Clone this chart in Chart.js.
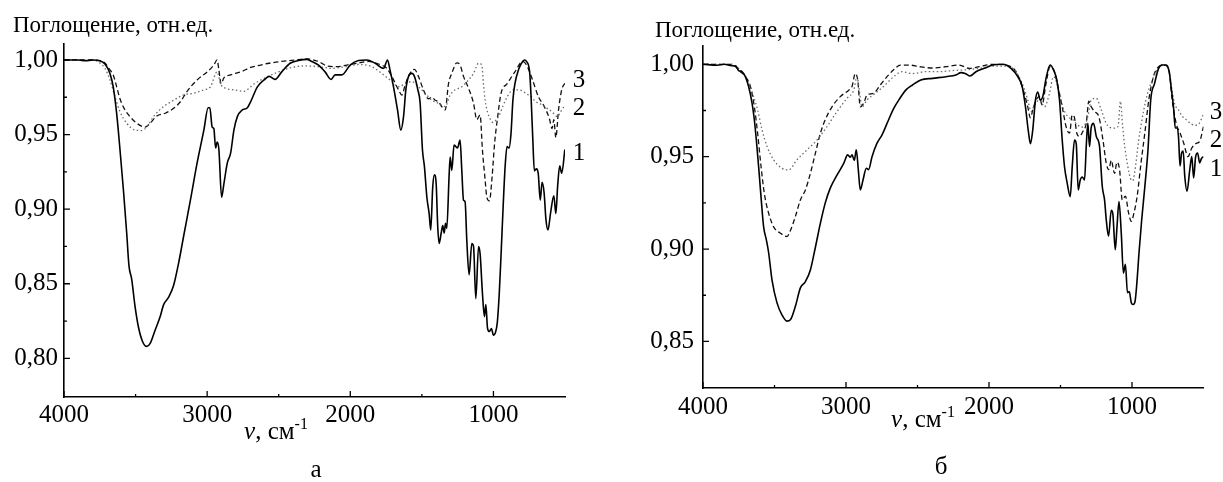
<!DOCTYPE html>
<html>
<head>
<meta charset="utf-8">
<script src="https://cdn.jsdelivr.net/npm/chart.js@4.4.1/dist/chart.umd.min.js"></script>
<style>
body { margin:0; background:#fff; width:1223px; height:482px; position:relative; overflow:hidden;
       font-family:'Liberation Serif','Times New Roman',serif; color:#000; }
canvas { position:absolute; top:0; }
.t { position:absolute; line-height:1; white-space:nowrap; }
.c { transform:translate(-50%,-50%); font-size:25px; }
.ttl { font-size:23px; }
sup { font-size:16px; position:relative; top:-2px; vertical-align:top; }
</style>
</head>
<body>
<canvas id="chartA" width="611" height="482" style="left:0"></canvas>
<canvas id="chartB" width="612" height="482" style="left:611px"></canvas>

<div class="t ttl" style="left:13px;top:13px">Поглощение, отн.ед.</div>
<div class="t ttl" style="left:655px;top:18px">Поглощение, отн.ед.</div>

<div class="t c" style="left:276px;top:430px"><i>ν</i>, см<sup>-1</sup></div>
<div class="t c" style="left:923px;top:418px"><i>ν</i>, см<sup>-1</sup></div>

<div class="t c" style="left:316px;top:468px">а</div>
<div class="t c" style="left:941px;top:465px">б</div>

<div class="t c" style="left:579px;top:78px">3</div>
<div class="t c" style="left:579px;top:106px">2</div>
<div class="t c" style="left:579px;top:151px">1</div>
<div class="t c" style="left:1216px;top:110px">3</div>
<div class="t c" style="left:1216px;top:138px">2</div>
<div class="t c" style="left:1216px;top:167px">1</div>

<script>
// wavenumber axis ticks
const xMajor = [4000, 3000, 2000, 1000];
const xMinor = [3500, 2500, 1500];
const yMajorA = [0.80, 0.85, 0.90, 0.95, 1.00];
const yMinorA = [0.825, 0.875, 0.925, 0.975];
const yMajorB = [0.85, 0.90, 0.95, 1.00];
const yMinorB = [0.875, 0.925, 0.975];

// panel a, curve 1 (solid)
const wnA1 = [4000,3900,3850,3800,3750,3714,3679,3656,3632,3609,3585,3562,3546,3527,3504,3480,3450,3422,3398,3363,
  3328,3304,3269,3234,3199,3164,3117,3070,3023,2993,2981,2965,2953,2941,2930,2918,2899,2883,2859,2836,
  2813,2789,2754,2719,2696,2649,2602,2567,2525,2479,2420,2362,2304,2269,2222,2176,2134,2106,2059,2001,
  1943,1885,1826,1768,1740,1722,1698,1670,1647,1628,1612,1593,1570,1552,1528,1512,1496,1482,1465,1449,
  1438,1424,1412,1400,1389,1379,1365,1354,1344,1335,1326,1309,1302,1291,1275,1263,1251,1233,1221,1209,
  1198,1186,1170,1151,1139,1123,1104,1093,1077,1063,1053,1041,1028,1014,1000,987,973,959,946,932,
  918,905,891,877,864,850,823,796,782,769,747,736,725,714,700,687,673,660,646,633,
  619,600,578,564,551,537,523,501];
const absA1 = [1.000,1.000,0.9995,1.000,0.9995,0.9973,0.991,0.982,0.964,0.940,0.913,0.884,0.862,0.853,0.835,0.821,0.811,0.808,0.810,0.819,
  0.828,0.836,0.841,0.849,0.864,0.882,0.906,0.931,0.953,0.968,0.968,0.955,0.954,0.941,0.945,0.940,0.908,0.917,0.931,0.9375,
  0.953,0.962,0.9665,0.968,0.972,0.982,0.9866,0.989,0.987,0.992,0.9978,0.9996,1.0004,0.999,0.9966,0.992,0.987,0.990,0.990,0.9966,
  0.9996,1.000,0.9978,0.9944,1.000,0.993,0.982,0.9665,0.953,0.962,0.980,0.989,0.991,0.989,0.980,0.971,0.940,0.9285,0.908,0.897,
  0.886,0.915,0.923,0.917,0.888,0.877,0.884,0.889,0.884,0.8905,0.887,0.924,0.935,0.926,0.943,0.942,0.941,0.9464,0.926,0.906,
  0.905,0.879,0.856,0.877,0.875,0.840,0.875,0.870,0.844,0.828,0.836,0.820,0.818,0.820,0.8156,0.817,0.824,0.844,0.871,0.902,
  0.929,0.942,0.941,0.951,0.973,0.984,0.994,0.999,1.000,0.999,0.992,0.973,0.947,0.9256,0.927,0.924,0.906,0.918,0.911,0.893,
  0.886,0.898,0.909,0.897,0.916,0.929,0.924,0.940];

// panel a, curve 2 (dotted)
const wnA2 = [4000,3800,3749,3714,3679,3644,3609,3562,3504,3457,3422,3375,3304,3234,3164,3094,3023,2977,2930,2906,
  2871,2813,2743,2672,2602,2502,2409,2316,2222,2129,2036,1943,1850,1780,1710,1663,1617,1570,1524,1477,
  1430,1384,1337,1302,1268,1221,1174,1139,1104,1081,1070,1058,1041,1020,1000,980,959,930,905,878,
  850,820,796,765,742,715,687,660,633,600,578,555,537,520,501];
const absA2 = [1.000,1.000,0.998,0.9944,0.9866,0.9754,0.9654,0.9576,0.953,0.9527,0.955,0.962,0.9688,0.973,0.9766,0.9777,0.980,0.982,0.992,0.984,
  0.981,0.980,0.979,0.984,0.9877,0.992,0.995,0.996,0.9955,0.9944,0.9955,0.997,0.9955,0.991,0.9855,0.982,0.984,0.9855,0.982,0.9777,
  0.973,0.971,0.9687,0.9765,0.980,0.982,0.9866,0.991,0.9978,0.9966,0.984,0.973,0.965,0.960,0.958,0.960,0.963,0.970,0.975,0.979,
  0.980,0.980,0.979,0.977,0.976,0.973,0.971,0.970,0.968,0.966,0.964,0.962,0.964,0.967,0.969];

// panel a, curve 3 (dashed)
const wnA3 = [4000,3800,3750,3714,3679,3656,3632,3609,3574,3539,3492,3433,3398,3351,3293,3234,3187,3140,3070,3000,
  2953,2930,2918,2902,2883,2836,2766,2696,2625,2567,2479,2385,2304,2222,2164,2094,2024,1943,1873,1803,
  1745,1710,1663,1640,1617,1589,1552,1524,1489,1454,1430,1407,1384,1361,1337,1314,1291,1256,1233,1209,
  1174,1139,1116,1093,1077,1058,1046,1028,1009,992,973,946,905,850,796,769,727,687,646,610,
  590,578,564,545,523,501];
const absA3 = [1.000,1.000,0.9995,0.998,0.9933,0.990,0.982,0.974,0.9665,0.962,0.9576,0.955,0.9576,0.9625,0.9643,0.9676,0.972,0.979,0.9866,0.992,
  0.9966,1.000,0.9933,0.984,0.988,0.990,0.992,0.995,0.9966,0.9978,0.999,1.000,1.0007,0.999,0.996,0.9955,0.9966,0.998,0.999,0.9973,
  0.9944,0.989,0.980,0.9765,0.983,0.990,0.9937,0.989,0.980,0.974,0.975,0.973,0.972,0.9687,0.9665,0.984,0.991,0.998,0.9966,0.989,
  0.981,0.971,0.960,0.9631,0.940,0.9196,0.908,0.9056,0.922,0.944,0.960,0.978,0.984,0.992,0.999,0.9967,0.9867,0.9756,0.969,0.961,
  0.954,0.960,0.948,0.9667,0.980,0.9844];

// panel б, curve 1 (solid)
const wnB1 = [4000,3900,3850,3800,3770,3751,3727,3704,3681,3657,3641,3627,3611,3594,3576,3557,3541,3517,3483,3448,
  3413,3389,3354,3319,3284,3249,3214,3179,3145,3110,3063,3016,2988,2970,2958,2942,2928,2914,2900,2881,
  2858,2842,2818,2783,2748,2713,2667,2628,2582,2535,2477,2395,2301,2231,2196,2161,2133,2091,2033,1974,
  1904,1846,1799,1768,1745,1726,1710,1694,1675,1659,1642,1624,1601,1573,1549,1526,1507,1488,1472,1453,
  1432,1418,1402,1390,1376,1362,1348,1332,1320,1309,1297,1285,1269,1250,1227,1208,1192,1180,1164,1145,
  1134,1117,1105,1091,1075,1060,1046,1032,1019,1005,992,978,964,951,932,910,888,869,842,814,
  787,760,740,724,710,697,686,675,664,653,642,631,615,596,582,569,555,541,527,514,500];
const absB1 = [1.000,0.9995,1.000,0.9992,0.999,0.9966,0.996,0.9933,0.988,0.979,0.970,0.959,0.9446,0.928,0.912,0.905,0.898,0.883,0.871,0.8644,
  0.861,0.8617,0.869,0.879,0.8824,0.8887,0.901,0.914,0.925,0.933,0.940,0.9464,0.951,0.9497,0.951,0.948,0.9537,0.943,0.932,0.9374,
  0.9437,0.943,0.950,0.9573,0.9618,0.968,0.976,0.981,0.986,0.9888,0.9915,0.9924,0.9933,0.9942,0.9955,0.9948,0.9937,0.996,0.9978,0.9996,
  1.000,0.9978,0.9933,0.988,0.977,0.9645,0.957,0.9645,0.9807,0.985,0.9807,0.9825,0.9924,0.9996,0.997,0.9915,0.9807,0.959,0.9446,0.9356,
  0.9284,0.9446,0.959,0.957,0.932,0.9374,0.939,0.9374,0.9555,0.968,0.9555,0.966,0.968,0.961,0.9555,0.934,0.9266,0.9158,0.907,0.921,
  0.919,0.8996,0.912,0.9257,0.9086,0.887,0.8917,0.8764,0.877,0.871,0.870,0.872,0.8836,0.898,0.916,0.934,0.954,0.9808,0.9897,0.9978,
  0.9996,0.9996,0.996,0.986,0.977,0.9655,0.9655,0.961,0.945,0.952,0.953,0.9394,0.9313,0.943,0.950,0.9385,0.950,0.952,0.9466,0.949,0.950];

// panel б, curve 2 (dotted)
const wnB2 = [4000,3800,3751,3716,3681,3646,3618,3587,3552,3506,3448,3401,3343,3273,3203,3133,3063,2993,2946,2923,
  2907,2888,2853,2795,2737,2667,2608,2535,2442,2348,2255,2161,2068,1974,1881,1811,1764,1729,1706,1682,
  1647,1612,1577,1549,1519,1484,1449,1414,1379,1344,1309,1285,1250,1215,1180,1134,1098,1081,1065,1050,
  1030,1010,995,975,955,930,905,880,850,815,780,760,740,720,700,680,650,620,590,560,530,500];
const absB2 = [1.000,1.000,0.9978,0.995,0.9906,0.9825,0.9753,0.9645,0.9555,0.9483,0.9437,0.9428,0.9483,0.9537,0.959,0.9663,0.9744,0.9816,0.986,0.9933,
  0.986,0.977,0.9807,0.9843,0.988,0.9933,0.996,0.995,0.996,0.996,0.9966,0.997,0.9978,0.999,0.999,0.996,0.9888,0.9807,0.9744,0.978,
  0.9807,0.977,0.9843,0.9933,0.988,0.977,0.9717,0.970,0.967,0.966,0.9717,0.9807,0.9816,0.9753,0.968,0.9654,0.9663,0.980,0.966,0.955,
  0.945,0.938,0.937,0.945,0.958,0.970,0.980,0.987,0.993,0.998,1.000,0.999,0.996,0.986,0.978,0.976,0.972,0.970,0.968,0.967,0.968,0.973];

// panel б, curve 3 (dashed)
const wnB3 = [4000,3800,3739,3704,3669,3641,3618,3594,3571,3541,3506,3459,3413,3389,3354,3319,3284,3249,3214,3179,
  3145,3098,3040,2981,2958,2935,2918,2900,2876,2853,2807,2760,2713,2667,2620,2558,2488,2395,2301,2208,
  2138,2068,1974,1881,1811,1764,1729,1710,1694,1671,1647,1629,1601,1573,1542,1512,1484,1460,1437,1418,
  1402,1386,1367,1344,1320,1302,1285,1262,1232,1203,1180,1162,1145,1122,1105,1087,1068,1046,1024,1005,
  986,964,937,910,882,850,814,773,740,719,691,664,637,609,582,555,527,500];
const absB3 = [1.000,1.000,0.996,0.9933,0.988,0.977,0.9627,0.9446,0.930,0.9194,0.912,0.9086,0.9068,0.910,0.9176,0.9266,0.932,0.941,0.9519,0.9627,
  0.970,0.977,0.9825,0.986,0.988,0.995,0.9915,0.977,0.979,0.9834,0.9843,0.9888,0.9933,0.997,0.9996,0.9996,0.9987,0.998,0.9987,0.9996,
  0.9978,0.9987,1.000,0.9996,0.996,0.987,0.977,0.971,0.9753,0.9807,0.9825,0.978,0.9897,0.9987,0.996,0.986,0.9753,0.966,0.9627,0.9726,
  0.971,0.9627,0.961,0.9636,0.968,0.980,0.977,0.9744,0.9717,0.959,0.9464,0.943,0.948,0.941,0.947,0.943,0.9266,0.9286,0.9196,0.915,
  0.9196,0.9286,0.9466,0.963,0.981,0.9933,0.9987,0.9996,0.996,0.9808,0.968,0.9628,0.957,0.950,0.9547,0.957,0.9583,0.9663];

const serif = "'Liberation Serif', 'Times New Roman', serif";

function pts(wn, ab) {
  return wn.map((x, i) => ({ x: x, y: ab[i] }));
}

// tick marks pointing into the plot
const innerTicks = {
  id: 'innerTicks',
  afterDraw(chart, args, o) {
    const ctx = chart.ctx, ca = chart.chartArea;
    const xs = chart.scales.x, ys = chart.scales.y;
    ctx.save();
    ctx.strokeStyle = '#000';
    ctx.lineWidth = 1.3;
    ctx.beginPath();
    o.xMajor.forEach(v => { const p = xs.getPixelForValue(v); ctx.moveTo(p, ca.bottom); ctx.lineTo(p, ca.bottom - 6); });
    o.xMinor.forEach(v => { const p = xs.getPixelForValue(v); ctx.moveTo(p, ca.bottom); ctx.lineTo(p, ca.bottom - 3); });
    o.yMajor.forEach(v => { const p = ys.getPixelForValue(v); ctx.moveTo(ca.left, p); ctx.lineTo(ca.left + 6, p); });
    o.yMinor.forEach(v => { const p = ys.getPixelForValue(v); ctx.moveTo(ca.left, p); ctx.lineTo(ca.left + 3, p); });
    ctx.stroke();
    ctx.restore();
  }
};

function makeChart(id, d1, d2, d3, ymin, ymax, yMajor, yMinor, pad, yw, xh, xpad, ypad) {
  return new Chart(document.getElementById(id), {
    type: 'line',
    data: {
      datasets: [
        { label: '1', data: d1, borderColor: '#000', borderWidth: 1.6 },
        { label: '2', data: d2, borderColor: '#6a6a6a', borderWidth: 1.3, borderDash: [1.5, 2.5] },
        { label: '3', data: d3, borderColor: '#111', borderWidth: 1.3, borderDash: [5, 3] }
      ]
    },
    options: {
      responsive: false,
      devicePixelRatio: 1,
      animation: false,
      layout: { padding: pad },
      elements: { point: { radius: 0 }, line: { cubicInterpolationMode: 'monotone', fill: false } },
      plugins: {
        legend: { display: false },
        tooltip: { enabled: false },
        innerTicks: { xMajor: xMajor, xMinor: xMinor, yMajor: yMajor, yMinor: yMinor }
      },
      scales: {
        x: {
          type: 'linear', reverse: true, min: 500, max: 4000,
          grid: { display: false, drawTicks: false },
          border: { display: true, color: '#000', width: 1.6 },
          afterBuildTicks: s => { s.ticks = xMajor.map(v => ({ value: v })); },
          afterFit: s => { s.height = xh; },
          ticks: { autoSkip: false, maxRotation: 0, padding: xpad, color: '#000',
                   font: { family: serif, size: 25 }, callback: v => String(v) }
        },
        y: {
          type: 'linear', min: ymin, max: ymax,
          grid: { display: false, drawTicks: false },
          border: { display: true, color: '#000', width: 1.6 },
          afterBuildTicks: s => { s.ticks = yMajor.map(v => ({ value: v })); },
          afterFit: s => { s.width = yw; },
          ticks: { autoSkip: false, padding: ypad, color: '#000',
                   font: { family: serif, size: 25 }, callback: v => v.toFixed(2).replace('.', ',') }
        }
      }
    },
    plugins: [innerTicks]
  });
}

makeChart('chartA', pts(wnA1, absA1), pts(wnA2, absA2), pts(wnA3, absA3),
  0.7741, 1.0107, yMajorA, yMinorA, { left: 0, right: 46, top: 44, bottom: 0 }, 64, 85, 3, 6);
makeChart('chartB', pts(wnB1, absB1), pts(wnB2, absB2), pts(wnB3, absB3),
  0.8248, 1.0099, yMajorB, yMinorB, { left: 0, right: 19.5, top: 46, bottom: 0 }, 92, 94, 4, 9);
</script>
</body>
</html>
